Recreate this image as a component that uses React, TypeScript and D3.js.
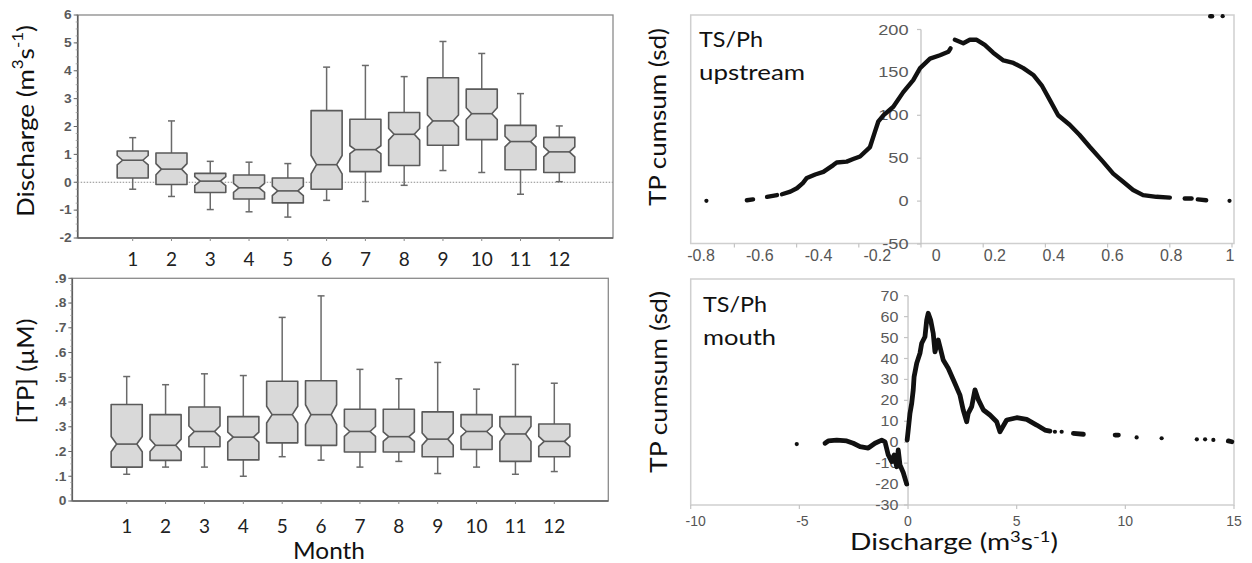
import React from 'react';
import * as d3 from 'd3';

// ---------------- DATA ----------------
const months = [1, 2, 3, 4, 5, 6, 7, 8, 9, 10, 11, 12];

const dischargeWhiskerLow = [-0.25, -0.51, -0.98, -1.06, -1.25, -0.65, -0.69, -0.11, 0.42, 0.35, -0.43, 0.02];
const dischargeQ1 = [0.15, -0.08, -0.37, -0.6, -0.74, -0.25, 0.38, 0.6, 1.33, 1.53, 0.45, 0.35];
const dischargeMedian = [0.79, 0.47, 0.04, -0.2, -0.31, 0.63, 1.17, 1.72, 2.2, 2.46, 1.46, 1.09];
const dischargeQ3 = [1.12, 1.05, 0.32, 0.26, 0.15, 2.57, 2.26, 2.5, 3.75, 3.34, 2.04, 1.61];
const dischargeWhiskerHigh = [1.6, 2.2, 0.75, 0.72, 0.67, 4.13, 4.19, 3.79, 5.05, 4.62, 3.18, 2.02];
const dischargeNotch = [0.17, 0.2, 0.16, 0.16, 0.17, 0.33, 0.14, 0.21, 0.21, 0.21, 0.19, 0.18];

const tpWhiskerLow = [0.108, 0.137, 0.137, 0.1, 0.179, 0.165, 0.137, 0.16, 0.111, 0.137, 0.108, 0.119];
const tpQ1 = [0.137, 0.164, 0.219, 0.166, 0.235, 0.225, 0.198, 0.198, 0.179, 0.208, 0.16, 0.179];
const tpMedian = [0.23, 0.225, 0.281, 0.258, 0.349, 0.349, 0.281, 0.26, 0.25, 0.281, 0.271, 0.241];
const tpQ3 = [0.39, 0.349, 0.38, 0.341, 0.484, 0.486, 0.371, 0.371, 0.36, 0.349, 0.341, 0.311];
const tpWhiskerHigh = [0.503, 0.47, 0.514, 0.507, 0.742, 0.829, 0.532, 0.494, 0.56, 0.452, 0.552, 0.476];
const tpNotch = [0.031, 0.025, 0.022, 0.02, 0.034, 0.04, 0.02, 0.019, 0.025, 0.02, 0.03, 0.02];

const dischargeTicks = [-2, -1, 0, 1, 2, 3, 4, 5, 6];
const dischargeTickLabels = ['-2', '-1', '0', '1', '2', '3', '4', '5', '6'];
const tpTicks = [0, 0.1, 0.2, 0.3, 0.4, 0.5, 0.6, 0.7, 0.8, 0.9];
const tpTickLabels = ['0', '.1', '.2', '.3', '.4', '.5', '.6', '.7', '.8', '.9'];

// upstream cumsum curve (discharge anomaly, TP cumsum), runs of contiguous points
const upstreamRuns: [number, number][][] = [
  [[-0.69, 0.3]],
  [[-0.56, 1], [-0.54, 2]],
  [[-0.495, 5], [-0.463, 7]],
  [
    [-0.447, 8], [-0.42, 11], [-0.399, 15], [-0.38, 21], [-0.367, 27], [-0.34, 31], [-0.314, 34],
    [-0.282, 42], [-0.271, 45], [-0.239, 46], [-0.218, 49], [-0.196, 52], [-0.164, 63],
    [-0.148, 81], [-0.137, 93], [-0.121, 100], [-0.089, 110], [-0.057, 127], [-0.025, 141],
    [-0.003, 155], [0.029, 166], [0.061, 170], [0.088, 174], [0.095, 178],
  ],
  [
    [0.109, 188], [0.136, 184], [0.157, 188], [0.179, 188], [0.205, 182], [0.232, 173],
    [0.265, 164], [0.297, 161], [0.329, 155], [0.361, 147], [0.388, 135], [0.414, 118],
    [0.441, 100], [0.478, 89], [0.51, 77], [0.543, 63], [0.585, 46], [0.618, 32], [0.65, 22.5],
    [0.682, 13], [0.714, 7], [0.757, 5], [0.8, 4],
  ],
  [[0.848, 3], [0.87, 3]],
  [[0.89, 2], [0.917, 1]],
  [[0.992, 0.3]],
  [[0.93, 215.5], [0.936, 215.5]],
  [[0.97, 215.5]],
];

const upstreamYTicks = [-50, 0, 50, 100, 150, 200];
const upstreamXTicks = [-0.6, -0.4, -0.2, 0, 0.2, 0.4, 0.6, 0.8, 1];
const upstreamXLabels = [-0.8, -0.6, -0.4, -0.2, 0, 0.2, 0.4, 0.6, 0.8, 1];

const mouthRuns: [number, number][][] = [
  [[-5.12, -0.9]],
  [
    [-3.82, -0.5], [-3.67, 0.6], [-3.28, 1], [-2.82, 0.6], [-2.52, -0.5], [-2.21, -2.1],
    [-1.83, -2.8], [-1.52, -0.5], [-1.21, 1], [-1.06, 0.2], [-0.91, -6.1], [-0.75, -9.3],
    [-0.64, -6.1], [-0.52, -11.7], [-0.45, -3.7], [-0.37, -10.9], [-0.22, -14.5], [-0.06, -20],
  ],
  [
    [-0.04, 1], [0.01, 5.8], [0.09, 13.8], [0.17, 18.6], [0.24, 25], [0.28, 31.3], [0.4, 37.7],
    [0.55, 42.5], [0.63, 47.3], [0.78, 50.4], [0.86, 58.4], [0.93, 61.6], [1.04, 58.4],
    [1.16, 52], [1.24, 43.2], [1.39, 48.8], [1.47, 45.6], [1.62, 39.3], [1.85, 35.3],
    [2.16, 28.1], [2.39, 22.5], [2.54, 15.4], [2.7, 9.8], [2.77, 13.8], [2.93, 17],
    [3.08, 25], [3.24, 20.2], [3.47, 15.4], [3.77, 13], [4.08, 9.8], [4.23, 5], [4.54, 10.6],
    [5.0, 11.7], [5.46, 10.9], [5.92, 8.2], [6.3, 5.8], [6.53, 5.3],
  ],
  [[6.76, 5]],
  [[7.07, 5]],
  [[7.61, 4.2], [8.07, 3.8]],
  [[9.53, 3.4], [9.68, 3.4]],
  [[10.52, 2.3]],
  [[11.67, 1.9]],
  [[13.29, 1.4]],
  [[13.67, 1.4]],
  [[14.05, 1.1]],
  [[14.74, 0.6], [14.9, 0.2]],
];

const mouthYTicks = [-30, -20, -10, 0, 10, 20, 30, 40, 50, 60, 70];
const mouthXTicks = [-10, -5, 0, 5, 10, 15];

// ---------------- STYLE ----------------
const CAL = "Lato, 'Open Sans', sans-serif";
const ARIAL = "'Liberation Sans', Arial, sans-serif";

type Frame = { left: number; right: number; top: number; bottom: number };

function Unit() {
  return (
    <>
      <tspan>Discharge (m</tspan>
      <tspan dy={-8} fontSize={15}>3</tspan>
      <tspan dy={8}>s</tspan>
      <tspan dy={-8} fontSize={15}>-1</tspan>
      <tspan dy={8}>)</tspan>
    </>
  );
}

function BoxPanel(props: {
  frame: Frame;
  xRange: [number, number];
  yDomain: [number, number];
  ticks: number[];
  tickLabels: string[];
  lo: number[]; q1: number[]; med: number[]; q3: number[]; hi: number[]; notch: number[];
  zeroLine: boolean;
  monthBaseline: number;
  minorStep: number;
}) {
  const { frame, xRange, yDomain, ticks, tickLabels, lo, q1, med, q3, hi, notch, zeroLine, monthBaseline, minorStep } = props;
  const x = d3.scaleLinear().domain([1, 12]).range(xRange);
  const y = d3.scaleLinear().domain(yDomain).range([frame.bottom, frame.top]);
  const step = x(2) - x(1);
  const hw = step * 0.4;
  const inset = step * 0.14;
  const capW = 3.5;
  const minor = d3.range(yDomain[0], yDomain[1] + 1e-9, minorStep);

  return (
    <g>
      <rect x={frame.left} y={frame.top} width={frame.right - frame.left} height={frame.bottom - frame.top}
        fill="none" stroke="#8a8a8a" strokeWidth={1.3} />
      <line x1={frame.left} x2={frame.left} y1={frame.top} y2={frame.bottom} stroke="#5e5e5e" strokeWidth={1.6} />
      <line x1={frame.left} x2={frame.right} y1={frame.bottom} y2={frame.bottom} stroke="#5e5e5e" strokeWidth={1.6} />
      {minor.map((v, i) => (
        <line key={'mn' + i} x1={frame.left - 2} x2={frame.left} y1={y(v)} y2={y(v)} stroke="#999" strokeWidth={0.8} />
      ))}
      {ticks.map((v, i) => (
        <g key={'t' + i}>
          <line x1={frame.left - 4} x2={frame.left} y1={y(v)} y2={y(v)} stroke="#666" strokeWidth={1} />
          <g transform={`translate(${frame.left - 6},${y(v)}) scale(1.15,1)`}>
            <text dy="0.36em" textAnchor="end" fontFamily={ARIAL}
              fontWeight="bold" fontSize={12} fill="#5a5a5a">{tickLabels[i]}</text>
          </g>
        </g>
      ))}
      {zeroLine && (
        <line x1={frame.left} x2={frame.right} y1={y(0)} y2={y(0)} stroke="#8c8c8c" strokeWidth={1}
          strokeDasharray="1.5,1.5" />
      )}
      {months.map((m, i) => {
        const cx = x(m);
        const yQ1 = y(q1[i]);
        const yQ3 = y(q3[i]);
        const yM = y(med[i]);
        const nh = Math.abs(y(med[i] + notch[i]) - yM);
        const L = cx - hw;
        const R = cx + hw;
        const path = [
          `M${L},${yQ3}`, `L${R},${yQ3}`, `L${R},${yM - nh}`, `L${R - inset},${yM}`, `L${R},${yM + nh}`,
          `L${R},${yQ1}`, `L${L},${yQ1}`, `L${L},${yM + nh}`, `L${L + inset},${yM}`, `L${L},${yM - nh}`, 'Z',
        ].join(' ');
        return (
          <g key={'b' + m}>
            <line x1={cx} x2={cx} y1={frame.bottom} y2={frame.bottom + 3} stroke="#888" strokeWidth={1} />
            <line x1={cx} x2={cx} y1={y(hi[i])} y2={yQ3} stroke="#6a6a6a" strokeWidth={1.5} />
            <line x1={cx} x2={cx} y1={yQ1} y2={y(lo[i])} stroke="#6a6a6a" strokeWidth={1.5} />
            <line x1={cx - capW} x2={cx + capW} y1={y(hi[i])} y2={y(hi[i])} stroke="#6a6a6a" strokeWidth={1.5} />
            <line x1={cx - capW} x2={cx + capW} y1={y(lo[i])} y2={y(lo[i])} stroke="#6a6a6a" strokeWidth={1.5} />
            <path d={path} fill="#d9d9d9" stroke="#5a5a5a" strokeWidth={1.6} strokeLinejoin="round" />
            <line x1={L + inset} x2={R - inset} y1={yM} y2={yM} stroke="#5a5a5a" strokeWidth={1.6} />
            <text x={cx} y={monthBaseline} textAnchor="middle" fontFamily={CAL} fontSize={19} fill="#222">{m}</text>
          </g>
        );
      })}
    </g>
  );
}

function Runs({ runs, x, y, width, r }: { runs: [number, number][][]; x: any; y: any; width: number; r: number }) {
  const line = d3.line<[number, number]>().x((d) => x(d[0])).y((d) => y(d[1]));
  return (
    <g>
      {runs.map((run, i) =>
        run.length === 1 ? (
          <circle key={i} cx={x(run[0][0])} cy={y(run[0][1])} r={r} fill="#111" />
        ) : (
          <path key={i} d={line(run) || ''} fill="none" stroke="#111" strokeWidth={width}
            strokeLinecap="round" strokeLinejoin="round" />
        )
      )}
    </g>
  );
}

function UpstreamPanel() {
  const frame: Frame = { left: 690.7, right: 1234, top: 15, bottom: 243.5 };
  const x = d3.scaleLinear().domain([0, 1]).range([921, 1232]);
  const y = d3.scaleLinear().domain([-50, 200]).range([244, 29.5]);
  const labelX = d3.scaleLinear().domain([-0.8, 1]).range([701, 1230]);
  return (
    <g>
      <rect x={frame.left} y={frame.top} width={frame.right - frame.left} height={frame.bottom - frame.top}
        fill="none" stroke="#cfcfcf" strokeWidth={1.5} />
      <line x1={x(0)} x2={x(0)} y1={y(200)} y2={y(-50)} stroke="#c4c4c4" strokeWidth={1.3} />
      {upstreamYTicks.map((v) => (
        <g key={'y' + v}>
          <line x1={x(0) - 4} x2={x(0)} y1={y(v)} y2={y(v)} stroke="#c4c4c4" strokeWidth={1.2} />
          <g transform={`translate(${x(0) - 12.5},${y(v)}) scale(1.3,1)`}>
            <text textAnchor="end" dy="0.36em" fontFamily={ARIAL} fontSize={14} fill="#5a5a5a">{v}</text>
          </g>
        </g>
      ))}
      {upstreamXTicks.map((v) => (
        <line key={'xt' + v} x1={x(v)} x2={x(v)} y1={frame.bottom} y2={frame.bottom + 4} stroke="#c4c4c4" strokeWidth={1.2} />
      ))}
      {upstreamXLabels.map((v) => (
        <text key={'xl' + v} x={labelX(v)} y={261} textAnchor="middle" fontFamily={ARIAL} fontSize={16} fill="#555">
          {v === 0 || v === 1 ? String(v) : v.toFixed(1)}
        </text>
      ))}
      <Runs runs={upstreamRuns} x={x} y={y} width={4.4} r={2.1} />
      <text x={699} y={46.5} fontFamily={CAL} fontSize={22} fill="#111" textLength={64} lengthAdjust="spacingAndGlyphs">TS/Ph</text>
      <text x={699} y={80} fontFamily={CAL} fontSize={22} fill="#111" textLength={106} lengthAdjust="spacingAndGlyphs">upstream</text>
      <text transform="translate(657,117) rotate(-90)" textAnchor="middle" dominantBaseline="central"
        fontFamily={CAL} fontSize={23} fill="#111" textLength={178} lengthAdjust="spacingAndGlyphs">TP cumsum (sd)</text>
    </g>
  );
}

function MouthPanel() {
  const frame: Frame = { left: 690.7, right: 1234, top: 279, bottom: 505 };
  const x = d3.scaleLinear().domain([-10, 15]).range([690.7, 1234]);
  const y = d3.scaleLinear().domain([-30, 70]).range([505, 295.7]);
  return (
    <g>
      <rect x={frame.left} y={frame.top} width={frame.right - frame.left} height={frame.bottom - frame.top}
        fill="none" stroke="#cfcfcf" strokeWidth={1.5} />
      <line x1={x(0)} x2={x(0)} y1={y(70)} y2={y(-30)} stroke="#c4c4c4" strokeWidth={1.3} />
      {mouthYTicks.map((v) => (
        <g key={'y' + v}>
          <line x1={x(0) - 4} x2={x(0)} y1={y(v)} y2={y(v)} stroke="#c4c4c4" strokeWidth={1.2} />
          <g transform={`translate(${x(0) - 9.5},${y(v)}) scale(1.15,1)`}>
            <text textAnchor="end" dy="0.36em" fontFamily={ARIAL} fontSize={14} fill="#5a5a5a">{v}</text>
          </g>
        </g>
      ))}
      {mouthXTicks.map((v) => (
        <g key={'x' + v}>
          <line x1={x(v)} x2={x(v)} y1={frame.bottom} y2={frame.bottom + 4} stroke="#c4c4c4" strokeWidth={1.2} />
          <text x={x(v) + (v === -10 ? 5 : v === -5 ? 3 : 0)} y={526} textAnchor="middle" fontFamily={ARIAL}
            fontSize={14} fill="#555">{v}</text>
        </g>
      ))}
      <Runs runs={mouthRuns} x={x} y={y} width={4.8} r={2.1} />
      <text x={703} y={311.5} fontFamily={CAL} fontSize={22} fill="#111" textLength={64} lengthAdjust="spacingAndGlyphs">TS/Ph</text>
      <text x={703} y={345} fontFamily={CAL} fontSize={22} fill="#111" textLength={73} lengthAdjust="spacingAndGlyphs">mouth</text>
      <text transform="translate(658,382) rotate(-90)" textAnchor="middle" dominantBaseline="central"
        fontFamily={CAL} fontSize={23} fill="#111" textLength={182} lengthAdjust="spacingAndGlyphs">TP cumsum (sd)</text>
      <text x={850} y={550} fontFamily={CAL} fontSize={23} fill="#111" textLength={208} lengthAdjust="spacingAndGlyphs">
        <Unit />
      </text>
    </g>
  );
}

export default function App() {
  return (
    <svg width={1252} height={563} style={{ position: 'absolute', left: 0, top: 0, display: 'block', background: '#fff' }}>
      <rect x={0} y={0} width={1252} height={563} fill="#fff" />
      <BoxPanel
        frame={{ left: 77.7, right: 613, top: 15, bottom: 238 }}
        xRange={[132.7, 559.3]}
        yDomain={[-2, 6]}
        ticks={dischargeTicks}
        tickLabels={dischargeTickLabels}
        lo={dischargeWhiskerLow} q1={dischargeQ1} med={dischargeMedian} q3={dischargeQ3}
        hi={dischargeWhiskerHigh} notch={dischargeNotch}
        zeroLine={true}
        monthBaseline={266}
        minorStep={0.25}
      />
      <text transform="translate(25,217) rotate(-90)" dominantBaseline="central"
        fontFamily={CAL} fontSize={23} fill="#111" textLength={192} lengthAdjust="spacingAndGlyphs">
        <Unit />
      </text>
      <BoxPanel
        frame={{ left: 72.3, right: 608.3, top: 278.3, bottom: 501 }}
        xRange={[126.7, 554.3]}
        yDomain={[0, 0.9]}
        ticks={tpTicks}
        tickLabels={tpTickLabels}
        lo={tpWhiskerLow} q1={tpQ1} med={tpMedian} q3={tpQ3}
        hi={tpWhiskerHigh} notch={tpNotch}
        zeroLine={false}
        monthBaseline={533}
        minorStep={0.025}
      />
      <text transform="translate(25,371) rotate(-90)" textAnchor="middle" dominantBaseline="central"
        fontFamily={CAL} fontSize={23} fill="#111" textLength={105} lengthAdjust="spacingAndGlyphs">[TP] (µM)</text>
      <text x={293} y={559} fontFamily={CAL} fontSize={23} fill="#111" textLength={72} lengthAdjust="spacingAndGlyphs">Month</text>
      <UpstreamPanel />
      <MouthPanel />
    </svg>
  );
}
